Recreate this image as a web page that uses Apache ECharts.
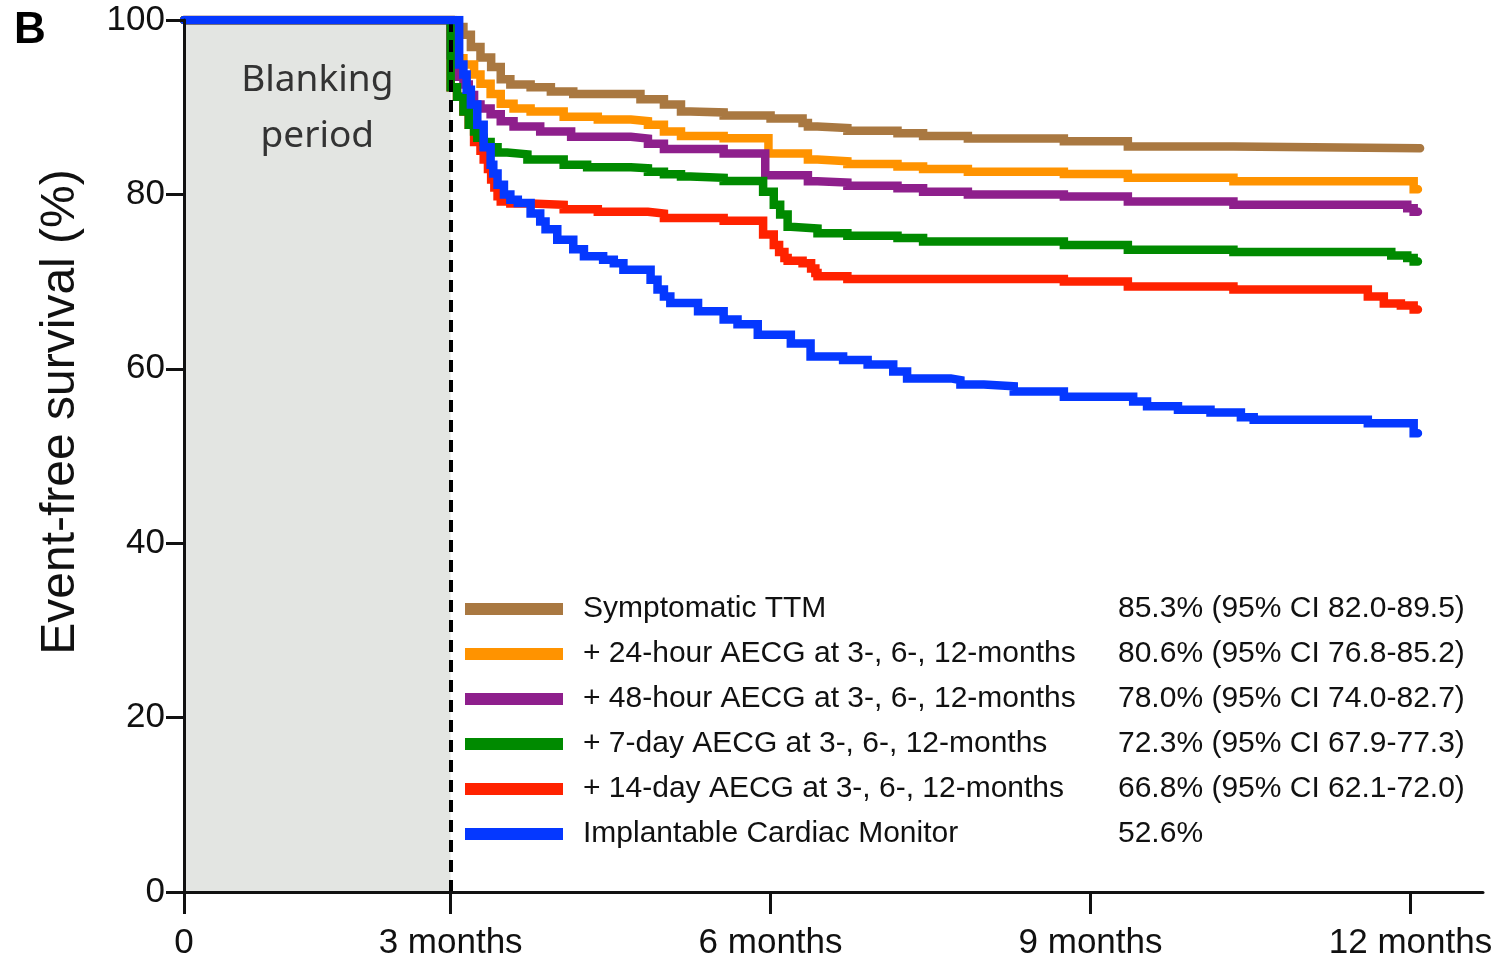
<!DOCTYPE html>
<html>
<head>
<meta charset="utf-8">
<script src="https://cdn.jsdelivr.net/npm/echarts@6/dist/echarts.min.js"></script>
<style>
html,body{margin:0;padding:0;background:#fff;}
#chart{width:1504px;height:957px;}
</style>
</head>
<body>
<div id="chart"></div>
<script>
// x values are in months after enrolment; the blanking period (0-3 months) is drawn compressed,
// so the "0" tick sits at 0.5 on the month scale.
var xTickValues = [0.5, 3, 6, 9, 12];
var xTickLabels = ['0', '3 months', '6 months', '9 months', '12 months'];
var yTickValues = [0, 20, 40, 60, 80, 100];

var seriesNames = [
  'Symptomatic TTM',
  '+ 24-hour AECG at 3-, 6-, 12-months',
  '+ 48-hour AECG at 3-, 6-, 12-months',
  '+ 7-day AECG at 3-, 6-, 12-months',
  '+ 14-day AECG at 3-, 6-, 12-months',
  'Implantable Cardiac Monitor'
];
var ciLabels = [
  '85.3% (95% CI 82.0-89.5)',
  '80.6% (95% CI 76.8-85.2)',
  '78.0% (95% CI 74.0-82.7)',
  '72.3% (95% CI 67.9-77.3)',
  '66.8% (95% CI 62.1-72.0)',
  '52.6%'
];
var seriesColors = ['#a97841', '#ff9300', '#8e1f8c', '#008a00', '#ff2200', '#0538ff'];

var ttm = [[0.5,100],[3.02,99.2],[3.12,98.3],[3.19,96.9],[3.28,95.7],[3.38,94.6],[3.47,93.2],[3.56,92.6],[3.75,92.3],[3.94,91.8],[4.15,91.5],[4.78,90.9],[5.0,90.3],[5.16,89.5],[5.25,89.4],[5.56,89.05],[6.0,88.7],[6.3,88.2],[6.35,87.8],[6.44,87.6],[6.72,87.3],[7.19,87.0],[7.43,86.7],[7.85,86.4],[8.75,86.1],[9.35,85.5],[10.34,85.3],[12.09,85.3]];
var aecg24h = [[0.5,100],[3.0,98.7],[3.02,97.0],[3.04,95.6],[3.12,94.9],[3.22,93.75],[3.28,92.7],[3.375,91.5],[3.47,90.4],[3.59,89.85],[3.75,89.5],[4.06,88.9],[4.38,88.6],[4.69,88.4],[4.85,88.0],[5.0,87.2],[5.16,86.7],[5.56,86.45],[5.98,84.7],[6.35,84.0],[6.44,83.8],[6.72,83.5],[7.19,83.2],[7.43,82.9],[7.85,82.6],[8.75,82.35],[9.35,81.9],[10.34,81.5],[12.03,80.6],[12.07,80.6]];
var aecg48h = [[0.5,100],[3.0,96.0],[3.02,94.1],[3.06,93.5],[3.12,92.6],[3.17,91.4],[3.22,90.3],[3.28,89.85],[3.375,89.2],[3.47,88.4],[3.59,87.8],[3.84,87.2],[4.13,86.6],[4.69,86.4],[4.85,85.8],[5.0,85.2],[5.56,84.7],[5.95,82.2],[6.35,81.5],[6.44,81.35],[6.72,81.0],[7.19,80.7],[7.43,80.3],[7.85,80.0],[8.75,79.75],[9.35,79.2],[10.34,78.8],[11.97,78.4],[12.03,78.0],[12.07,78.0]];
var aecg7d = [[0.5,100],[3.0,92.3],[3.06,91.2],[3.12,89.5],[3.17,88.0],[3.22,87.2],[3.25,86.5],[3.31,86.0],[3.375,85.4],[3.44,84.8],[3.53,84.6],[3.72,84.0],[4.06,83.4],[4.28,83.1],[4.69,83.0],[4.85,82.6],[5.0,82.3],[5.16,82.05],[5.25,81.9],[5.56,81.55],[5.93,80.3],[6.03,78.8],[6.09,77.7],[6.16,76.3],[6.19,76.1],[6.44,75.55],[6.72,75.25],[7.19,75.0],[7.43,74.6],[8.75,74.2],[9.35,73.65],[10.34,73.4],[11.82,73.0],[11.97,72.7],[12.03,72.3],[12.07,72.3]];
var aecg14d = [[0.5,100],[3.0,92.3],[3.06,91.2],[3.12,89.5],[3.17,88.0],[3.22,86.0],[3.28,85.0],[3.31,84.0],[3.35,82.9],[3.38,81.7],[3.41,80.8],[3.44,79.8],[3.47,79.2],[3.56,78.95],[3.75,78.8],[4.06,78.3],[4.38,78.0],[4.85,77.8],[5.0,77.3],[5.56,76.97],[5.93,75.4],[6.03,74.2],[6.08,73.4],[6.13,72.7],[6.16,72.4],[6.30,72.1],[6.38,71.5],[6.42,71.0],[6.44,70.6],[6.72,70.3],[8.75,70.0],[9.35,69.45],[10.34,69.1],[11.60,68.3],[11.75,67.5],[11.91,67.25],[12.03,66.8],[12.07,66.8]];
var icm = [[0.5,100],[3.08,94.9],[3.12,93.75],[3.15,92.0],[3.19,90.3],[3.25,88.0],[3.31,85.4],[3.375,83.4],[3.40,82.4],[3.44,81.1],[3.50,80.0],[3.56,79.4],[3.63,79.0],[3.75,77.8],[3.84,76.9],[3.89,76.0],[4.00,74.8],[4.15,73.7],[4.25,72.9],[4.43,72.5],[4.53,72.1],[4.62,71.35],[4.875,70.2],[4.94,69.1],[5.00,68.3],[5.06,67.55],[5.32,66.6],[5.56,65.65],[5.69,65.1],[5.88,63.9],[6.19,62.9],[6.375,61.4],[6.68,61.0],[6.91,60.5],[7.15,59.7],[7.28,58.9],[7.69,58.7],[7.78,58.2],[8.00,58.0],[8.28,57.4],[8.75,56.8],[9.40,56.25],[9.53,55.7],[9.82,55.3],[10.125,55.0],[10.41,54.45],[10.53,54.15],[11.60,53.75],[12.03,52.6],[12.07,52.6]];

var blankingStart = 0.5, blankingEnd = 3;
var seriesData = [ttm, aecg24h, aecg48h, aecg7d, aecg14d, icm];
var seriesZ = [3, 3, 3, 3, 2, 5];

var FONT = '"Liberation Sans", Arial, Helvetica, sans-serif';
var chart = echarts.init(document.getElementById('chart'), null, {renderer: 'canvas'});

var series = [
  {
    name: 'blanking', type: 'line', data: [], z: 1, silent: true,
    markArea: {
      silent: true,
      itemStyle: {color: '#e3e5e2'},
      label: {
        show: true, position: 'insideTop', distance: 32,
        formatter: 'Blanking\nperiod',
        fontFamily: '"Noto Sans", "Open Sans", sans-serif', fontSize: 37, lineHeight: 56, color: '#333'
      },
      data: [[{xAxis: blankingStart, yAxis: 0}, {xAxis: blankingEnd, yAxis: 100}]]
    }
  },
  {
    name: 'landmark', type: 'line', data: [], z: 4, silent: true,
    markLine: {
      silent: true, symbol: ['none', 'none'], animation: false,
      label: {show: false},
      lineStyle: {color: '#000', width: 4, type: [12, 8]},
      emphasis: {disabled: true},
      data: [{xAxis: blankingEnd}]
    }
  }
];
seriesNames.forEach(function (n, i) {
  series.push({
    name: n, type: 'line', step: 'end', data: seriesData[i],
    showSymbol: false, symbol: 'none', color: seriesColors[i],
    z: seriesZ[i],
    lineStyle: {width: 8.5, color: seriesColors[i], cap: 'round', join: 'miter'},
    emphasis: {disabled: true}
  });
});

chart.setOption({
  animation: false,
  backgroundColor: '#ffffff',
  grid: {left: 184, right: 21, top: 20, bottom: 65, containLabel: false, outerBoundsMode: 'none'},
  xAxis: {
    type: 'value', min: 0.5, max: 12.68, z: 10,
    axisLine: {show: true, lineStyle: {color: '#111', width: 3}},
    axisTick: {show: true, length: 22, lineStyle: {color: '#111', width: 3}, customValues: xTickValues},
    axisLabel: {
      customValues: xTickValues, margin: 34, fontSize: 35, fontFamily: FONT, color: '#111',
      formatter: function (v) { var i = xTickValues.indexOf(v); return i >= 0 ? xTickLabels[i] : ''; }
    },
    splitLine: {show: false}
  },
  yAxis: {
    type: 'value', min: 0, max: 100, interval: 20, z: 10,
    axisLine: {show: true, lineStyle: {color: '#111', width: 3}},
    axisTick: {show: true, length: 18, lineStyle: {color: '#111', width: 3}, customValues: yTickValues},
    axisLabel: {customValues: yTickValues, margin: 19, fontSize: 35, fontFamily: FONT, color: '#111'},
    splitLine: {show: false}
  },
  legend: {
    orient: 'vertical', left: 460, top: 589, itemGap: 15,
    itemWidth: 98, itemHeight: 12, icon: 'rect', selectedMode: false,
    data: seriesNames,
    formatter: function (name) {
      var i = seriesNames.indexOf(name);
      return '{g| }{n|' + name + '}{v|' + ciLabels[i] + '}';
    },
    textStyle: {
      fontSize: 30, fontFamily: FONT, color: '#111',
      rich: {
        g: {width: 15, fontSize: 30, lineHeight: 30},
        n: {width: 535, fontSize: 30, lineHeight: 30, fontFamily: FONT, color: '#111'},
        v: {fontSize: 30, lineHeight: 30, fontFamily: FONT, color: '#111'}
      }
    }
  },
  graphic: [
    {type: 'text', x: 14, y: 31, silent: true,
     style: {text: 'B', fontSize: 44, fontWeight: 'bold', fontFamily: FONT, fill: '#000',
             textAlign: 'left', textVerticalAlign: 'middle', align: 'left', verticalAlign: 'middle'}},
    {type: 'text', x: 61, y: 412, rotation: Math.PI / 2, silent: true,
     style: {text: 'Event-free survival (%)', fontSize: 48, fontFamily: FONT, fill: '#111',
             textAlign: 'center', textVerticalAlign: 'middle', align: 'center', verticalAlign: 'middle'}}
  ],
  series: series
});
</script>
</body>
</html>
